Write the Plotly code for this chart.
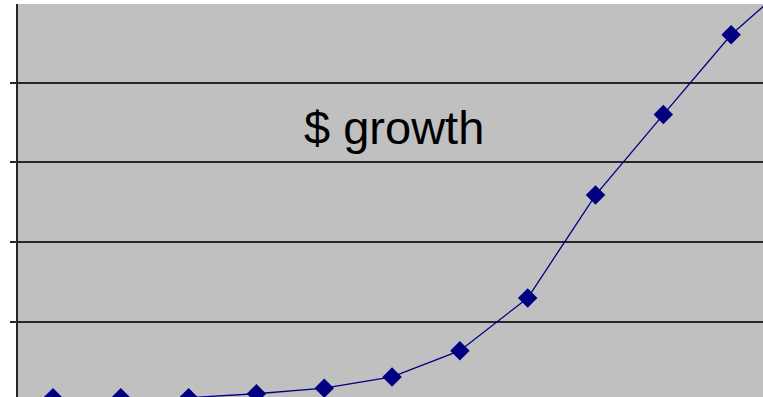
import plotly.graph_objects as go

# Growth series, one value per period (dollars, hundreds-scale axis)
periods = [1, 2, 3, 4, 5, 6, 7, 8, 9, 10, 11, 12]
dollars = [5, 5, 5, 10, 17, 31, 64, 130, 259, 360, 460, 535]

# Value-axis gridline positions
y_ticks = [0, 100, 200, 300, 400, 500]

title_text = "$ growth"

navy = "#000080"
plot_gray = "#C0C0C0"
grid_dark = "#262626"

fig = go.Figure()
fig.add_trace(
    go.Scatter(
        x=periods,
        y=dollars,
        mode="lines+markers",
        line=dict(color=navy, width=1.3),
        marker=dict(symbol="diamond", size=15, color=navy, line=dict(width=0)),
        cliponaxis=True,
        showlegend=False,
        hoverinfo="skip",
    )
)

fig.add_annotation(
    text=title_text,
    xref="paper",
    yref="paper",
    x=0.505,
    y=0.685,
    xanchor="center",
    yanchor="middle",
    showarrow=False,
    font=dict(family="Liberation Sans, Arial, sans-serif", size=47, color="black"),
)

fig.update_xaxes(
    range=[0.484, 11.47],
    showgrid=False,
    zeroline=False,
    showticklabels=False,
    ticks="",
    showline=False,
)
fig.update_yaxes(
    range=[5.9, 498.6],
    tickmode="array",
    tickvals=y_ticks,
    showticklabels=False,
    ticks="outside",
    ticklen=6,
    tickwidth=1.6,
    tickcolor=grid_dark,
    showgrid=True,
    gridcolor=grid_dark,
    gridwidth=1.6,
    zeroline=False,
    showline=True,
    linecolor=grid_dark,
    linewidth=2,
)

fig.update_layout(
    width=763,
    height=397,
    margin=dict(l=18, r=0, t=4, b=0),
    paper_bgcolor="white",
    plot_bgcolor=plot_gray,
)

fig.write_html("out.html")
